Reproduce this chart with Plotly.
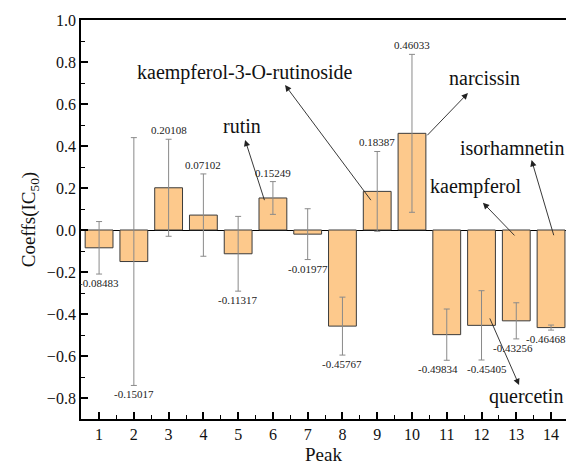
import plotly.graph_objects as go

peaks = list(range(1, 15))
coeffs = [-0.08483, -0.15017, 0.20108, 0.07102, -0.11317, 0.15249, -0.01977,
          -0.45767, 0.18387, 0.46033, -0.49834, -0.45405, -0.43256, -0.46468]
errors = [0.125, 0.59, 0.231, 0.196, 0.178, 0.078, 0.121,
          0.138, 0.19, 0.376, 0.122, 0.165, 0.086, 0.012]

compounds = ["kaempferol-3-O-rutinoside", "narcissin", "rutin",
             "isorhamnetin", "kaempferol", "quercetin"]
label_xy = [(5.2, 0.752), (12.1, 0.724), (5.11, 0.495),
            (12.88, 0.39), (11.84, 0.205), (13.28, -0.794)]
arrow_tail = [(8.85, 0.135), (10.4, 0.444), (5.77, 0.135),
              (14.09, -0.032), (12.99, -0.033), (12.22, -0.414)]
arrow_head = [(6.35, 0.69), (11.61, 0.652), (5.2, 0.429),
              (13.44, 0.333), (12.04, 0.13), (13.08, -0.738)]

# horizontal nudges (pixels) of value labels, as in the reference
label_shift = [0, 0, 0, 0, 0, 0, 0, 0, 0, 0, -9, 5, -3, -5]

FONT = "Liberation Serif"

fig = go.Figure()
fig.add_trace(go.Bar(
    x=peaks, y=coeffs, width=0.8,
    marker=dict(color="#FDC98C", line=dict(color="#3a3a3a", width=1)),
    error_y=dict(type="data", array=errors, visible=True,
                 color="#8a8a8a", thickness=1, width=3),
    showlegend=False,
))

annotations = []
for p, v, e, s in zip(peaks, coeffs, errors, label_shift):
    if v >= 0:
        annotations.append(dict(x=p, y=v + e, text=f"{v:.5f}", showarrow=False,
                                yanchor="bottom", yshift=1, xshift=s,
                                font=dict(family=FONT, size=11, color="#222")))
    else:
        annotations.append(dict(x=p, y=v - e, text=f"{v:.5f}", showarrow=False,
                                yanchor="top", yshift=-1, xshift=s,
                                font=dict(family=FONT, size=11, color="#222")))

for name, (tx, ty), (ax_, ay_), (hx, hy) in zip(compounds, label_xy, arrow_tail, arrow_head):
    annotations.append(dict(x=tx, y=ty, text=name, showarrow=False,
                            font=dict(family=FONT, size=20, color="#111")))
    annotations.append(dict(x=hx, y=hy, ax=ax_, ay=ay_, axref="x", ayref="y",
                            xref="x", yref="y", text="", showarrow=True,
                            arrowhead=2, arrowsize=1.4, arrowwidth=0.9,
                            arrowcolor="#222"))

fig.update_layout(
    width=566, height=466,
    margin=dict(l=81, r=0, t=20, b=47),
    plot_bgcolor="white", paper_bgcolor="white",
    font=dict(family=FONT, size=16, color="#111"),
    annotations=annotations,
    xaxis=dict(
        range=[0.48, 14.43], tickmode="array", tickvals=peaks,
        ticktext=[str(p) for p in peaks],
        showline=True, linecolor="black", linewidth=1.8, mirror=True,
        ticks="inside", ticklen=7, tickwidth=1.5, tickcolor="black",
        minor=dict(ticks="inside", dtick=0.5, tick0=0.5, ticklen=4,
                   tickwidth=1.2, tickcolor="black"),
        showgrid=False, zeroline=False,
        title=dict(text="Peak", font=dict(family=FONT, size=19), standoff=6),
        tickfont=dict(family=FONT, size=16),
    ),
    yaxis=dict(
        range=[-0.9, 1.0], dtick=0.2, tick0=0, tickformat=".1f",
        showline=True, linecolor="black", linewidth=1.8, mirror=False,
        ticks="inside", ticklen=7, tickwidth=1.5, tickcolor="black",
        minor=dict(ticks="inside", dtick=0.1, ticklen=4,
                   tickwidth=1.2, tickcolor="black"),
        showgrid=False, zeroline=True, zerolinecolor="black", zerolinewidth=1.2,
        title=dict(text="Coeffs(IC<sub>50</sub>)", font=dict(family=FONT, size=19),
                   standoff=6),
        tickfont=dict(family=FONT, size=16),
    ),
)

fig.write_html("out.html")
